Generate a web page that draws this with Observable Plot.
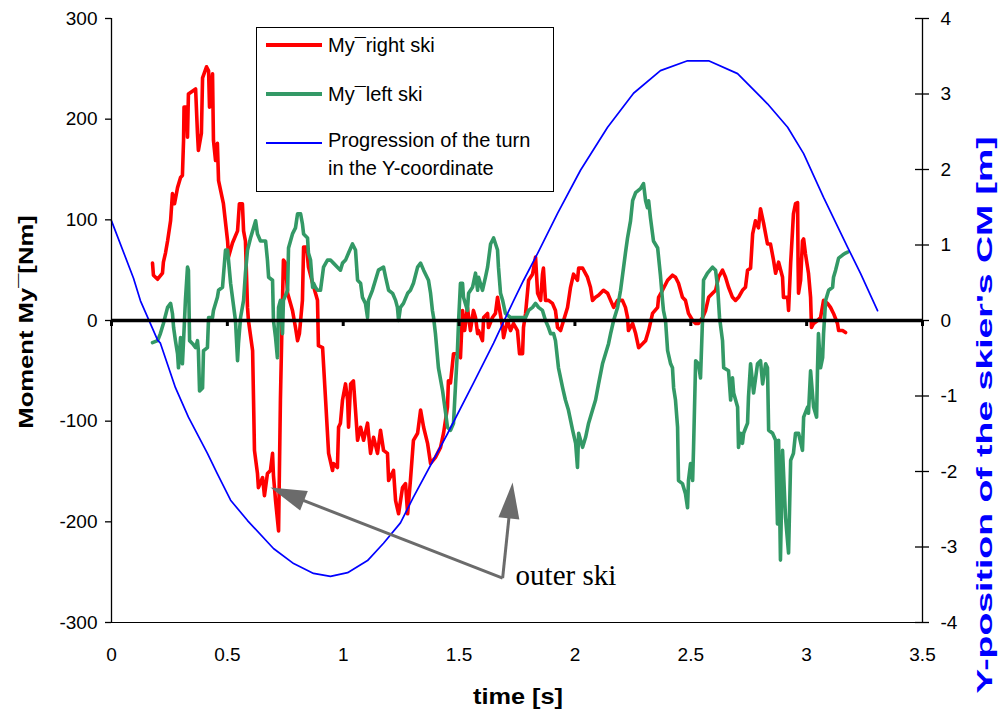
<!DOCTYPE html>
<html><head><meta charset="utf-8">
<script src="https://cdn.jsdelivr.net/npm/d3@7"></script>
<script src="https://cdn.jsdelivr.net/npm/@observablehq/plot@0.6"></script>
<style>
html,body{margin:0;padding:0;background:#fff;}
#chart{position:relative;width:998px;height:715px;font-family:"Liberation Sans",Arial,sans-serif;color:#000;overflow:hidden;}
#chart svg{position:absolute;left:0;top:0;}
.title{position:absolute;font-weight:bold;white-space:nowrap;line-height:1;}
#ytitle{left:25px;top:322px;font-size:21px;transform:translate(-50%,-50%) rotate(-90deg) scaleX(1.22);}
#y2title{left:985px;top:415px;font-size:22px;color:#0000ff;transform:translate(-50%,-50%) rotate(-90deg) scaleX(1.7);}
#xtitle{left:518px;top:697px;font-size:22px;transform:translate(-50%,-50%) scaleX(1.15);}
#legend{position:absolute;left:256px;top:27px;width:298px;height:165px;border:1px solid #000;box-sizing:border-box;background:#fff;font-size:20px;line-height:1;}
#legend .sw{position:absolute;left:9px;width:56px;}
#legend .tx{position:absolute;left:71px;white-space:nowrap;transform:translateY(-50%);}
</style></head>
<body><div id="chart"></div>
<script>
// ---- data ----
const xTicks = [0, 0.5, 1, 1.5, 2, 2.5, 3, 3.5];
const leftTicks = [-300, -200, -100, 0, 100, 200, 300];
const rightTicks = [-4, -3, -2, -1, 0, 1, 2, 3, 4];

// My right ski (time s, moment Nm)
const rightSkiTime = [0.177,0.181,0.199,0.220,0.224,0.233,0.242,0.255,0.263,0.272,0.285,0.298,0.306,0.311,0.313,0.324,0.328,0.332,0.363,0.371,0.375,0.388,0.393,0.410,0.419,0.423,0.436,0.440,0.449,0.457,0.462,0.483,0.501,0.505,0.522,0.544,0.552,0.565,0.570,0.578,0.587,0.591,0.609,0.613,0.617,0.630,0.634,0.652,0.660,0.673,0.686,0.695,0.699,0.708,0.721,0.729,0.738,0.742,0.751,0.760,0.781,0.794,0.803,0.811,0.824,0.829,0.842,0.850,0.868,0.889,0.893,0.911,0.915,0.924,0.937,0.954,0.958,0.975,0.980,0.988,0.997,1.010,1.019,1.023,1.032,1.044,1.053,1.062,1.075,1.088,1.105,1.118,1.131,1.148,1.161,1.174,1.191,1.196,1.217,1.226,1.239,1.256,1.269,1.278,1.290,1.303,1.321,1.334,1.347,1.364,1.377,1.398,1.420,1.433,1.450,1.454,1.463,1.476,1.493,1.506,1.515,1.524,1.536,1.549,1.562,1.571,1.580,1.584,1.601,1.606,1.623,1.627,1.644,1.657,1.666,1.670,1.688,1.692,1.709,1.722,1.735,1.752,1.761,1.774,1.778,1.787,1.800,1.817,1.830,1.839,1.852,1.860,1.864,1.873,1.886,1.903,1.916,1.925,1.938,1.951,1.968,1.981,1.994,2.011,2.016,2.033,2.054,2.067,2.076,2.089,2.102,2.123,2.141,2.154,2.167,2.184,2.205,2.218,2.227,2.231,2.249,2.262,2.275,2.292,2.305,2.318,2.335,2.357,2.361,2.378,2.400,2.421,2.434,2.447,2.464,2.477,2.490,2.508,2.521,2.533,2.551,2.564,2.577,2.594,2.607,2.620,2.637,2.650,2.663,2.680,2.693,2.706,2.723,2.736,2.745,2.758,2.767,2.779,2.792,2.801,2.814,2.831,2.844,2.857,2.866,2.879,2.896,2.900,2.918,2.922,2.931,2.939,2.943,2.952,2.961,2.963,2.965,2.974,2.982,2.987,2.995,3.008,3.017,3.021,3.030,3.047,3.060,3.073,3.090,3.103,3.116,3.133,3.138,3.155,3.168];
const rightSkiMoment = [57,45,41,47,58,67,79,99,126,116,132,142,144,179,212,212,182,225,230,186,169,186,241,252,248,212,245,179,159,176,139,116,79,63,77,89,116,116,89,79,13,0,-30,-79,-129,-152,-166,-156,-174,-152,-149,-132,-154,-179,-209,-79,20,60,57,27,10,-7,-20,-13,20,73,73,53,37,20,-25,-27,-43,-79,-132,-149,-142,-146,-106,-102,-79,-63,-79,-106,-63,-60,-89,-119,-106,-119,-102,-132,-116,-132,-109,-129,-132,-159,-149,-179,-192,-166,-162,-192,-159,-119,-112,-89,-106,-122,-142,-136,-126,-112,-86,-60,-62,-33,-33,-37,10,-10,13,-10,10,3,-13,-10,-20,3,7,-7,3,7,23,17,-7,-17,0,-10,-3,-10,-33,-33,-7,7,40,46,63,27,20,46,52,20,20,17,10,-7,-10,0,13,33,46,40,52,52,43,33,20,23,25,30,27,20,13,20,20,13,3,-10,-3,-13,-27,-23,-20,-10,7,13,23,30,40,45,43,37,23,20,7,0,-3,-3,3,10,23,27,30,43,50,43,33,23,20,23,30,33,50,52,86,99,92,111,97,76,76,60,47,58,43,23,23,10,57,89,106,116,117,57,27,40,79,81,66,47,23,-7,-3,0,3,20,17,13,7,-3,-10,-10,-12];

// My left ski (time s, moment Nm)
const leftSkiTime = [0.177,0.199,0.211,0.224,0.242,0.255,0.263,0.268,0.276,0.285,0.289,0.298,0.306,0.311,0.319,0.328,0.332,0.337,0.350,0.363,0.371,0.375,0.380,0.393,0.397,0.414,0.419,0.436,0.440,0.457,0.462,0.479,0.492,0.501,0.514,0.535,0.544,0.548,0.557,0.570,0.578,0.587,0.600,0.622,0.630,0.643,0.665,0.673,0.678,0.695,0.699,0.708,0.716,0.721,0.729,0.738,0.742,0.760,0.764,0.781,0.794,0.803,0.816,0.824,0.829,0.846,0.850,0.859,0.868,0.872,0.880,0.889,0.902,0.915,0.932,0.945,0.958,0.975,0.988,0.997,1.010,1.023,1.040,1.053,1.062,1.075,1.083,1.096,1.105,1.109,1.126,1.139,1.152,1.174,1.183,1.196,1.213,1.226,1.234,1.239,1.247,1.260,1.278,1.290,1.303,1.321,1.334,1.347,1.368,1.377,1.385,1.390,1.398,1.411,1.429,1.442,1.450,1.463,1.476,1.485,1.493,1.498,1.506,1.515,1.519,1.536,1.541,1.558,1.571,1.580,1.584,1.601,1.614,1.623,1.636,1.649,1.666,1.670,1.679,1.688,1.700,1.722,1.744,1.765,1.787,1.800,1.817,1.830,1.843,1.860,1.873,1.886,1.895,1.908,1.916,1.929,1.947,1.959,1.972,1.990,2.003,2.011,2.016,2.033,2.046,2.059,2.076,2.089,2.102,2.119,2.132,2.145,2.154,2.167,2.184,2.197,2.210,2.218,2.227,2.240,2.249,2.262,2.283,2.296,2.305,2.313,2.318,2.326,2.339,2.357,2.369,2.378,2.382,2.391,2.400,2.413,2.421,2.426,2.434,2.443,2.447,2.464,2.469,2.477,2.486,2.490,2.499,2.508,2.512,2.521,2.533,2.542,2.551,2.555,2.572,2.594,2.607,2.616,2.624,2.637,2.642,2.663,2.672,2.680,2.685,2.702,2.706,2.715,2.723,2.728,2.745,2.749,2.758,2.771,2.788,2.801,2.810,2.823,2.831,2.836,2.853,2.866,2.874,2.879,2.887,2.896,2.909,2.922,2.931,2.943,2.952,2.965,2.982,2.987,3.004,3.008,3.017,3.030,3.043,3.047,3.051,3.060,3.069,3.073,3.082,3.095,3.112,3.116,3.125,3.138,3.155,3.168,3.177];
const leftSkiMoment = [-22,-20,-13,-3,13,17,7,-7,-20,-33,-47,-17,-43,-20,20,53,50,-20,-23,-27,-20,-30,-70,-67,-30,-27,3,3,10,23,30,33,70,70,37,0,-40,-23,3,20,47,70,82,99,86,79,79,60,43,40,0,-17,-37,13,20,-13,20,30,72,86,92,106,106,96,86,82,67,60,33,37,33,30,30,53,60,60,57,53,50,57,60,67,76,70,40,37,23,17,3,20,30,40,50,53,43,30,27,20,13,0,13,17,27,30,37,53,57,50,40,27,10,3,-13,-47,-70,-92,-106,-109,-102,-63,-30,0,37,37,23,10,27,33,47,30,43,30,43,53,76,82,70,53,27,20,7,3,3,3,3,10,13,17,13,10,0,-7,-13,-13,-20,-47,-67,-79,-89,-109,-122,-146,-112,-126,-116,-102,-89,-79,-63,-43,-33,-23,-13,0,13,30,53,67,82,99,119,127,131,136,119,112,119,102,79,72,45,20,10,0,-30,-43,-47,-67,-79,-106,-159,-162,-166,-172,-186,-159,-142,-159,-126,-40,-43,-57,3,40,47,53,50,33,3,-20,-47,-50,-79,-57,-72,-86,-126,-112,-122,-112,-102,-76,-43,-72,-43,-40,-63,-43,-47,-109,-112,-119,-202,-119,-238,-129,-196,-231,-139,-132,-112,-112,-129,-96,-86,-92,-50,-86,-96,-47,-13,-47,-37,-13,20,30,33,43,50,62,65,67,68];

// Progression of the turn in the Y-coordinate (time s, Y-position m)
const turnTime = [0,0.095,0.125,0.199,0.211,0.276,0.332,0.414,0.457,0.514,0.587,0.699,0.786,0.872,0.945,1.019,1.105,1.174,1.247,1.303,1.450,1.562,1.649,1.735,1.778,1.839,1.925,2.024,2.141,2.253,2.369,2.486,2.577,2.702,2.831,2.918,2.987,3.073,3.177,3.233,3.306];
const turnY = [1.32,0.56,0.26,-0.26,-0.30,-0.89,-1.28,-1.76,-2.03,-2.38,-2.65,-3.02,-3.22,-3.35,-3.39,-3.34,-3.18,-2.95,-2.68,-2.34,-1.50,-0.83,-0.30,0.26,0.53,0.89,1.42,1.99,2.56,3.01,3.31,3.44,3.44,3.27,2.87,2.56,2.21,1.63,0.97,0.62,0.13];

// "outer ski" annotation: label anchor and arrow tips (time s, moment Nm)
const calloutLabel = {t: 1.744, m: -254, text: "outer ski"};
const calloutFrom = {t: 1.688, m: -256};
const calloutTips = [{t: 0.686, m: -166}, {t: 1.731, m: -161}];

const seriesNames = ["My\u00AFright ski", "My\u00AFleft ski", "Progression of the turn", "in the Y-coordinate"];

// ---- build ----
const RED = "#ff0000", GREEN = "#339966", BLUE = "#0000ff", GREY = "#6b6b6b";
const mPerAxis = 300 / 4; // right axis (m) is mapped onto the left axis (Nm)

const right = rightSkiTime.map((t, i) => ({t, m: rightSkiMoment[i]}));
const left = leftSkiTime.map((t, i) => ({t, m: leftSkiMoment[i]}));
const turn = turnTime.map((t, i) => ({t, y: turnY[i]}));

// arrow heads: apex at the tip, heading measured on screen
const headAngles = [-68.6, 5.9];
const headBack = [0.07, 0.19];
function arrowHead(deg, len = 36, half = 10.5) {
  const a = deg * Math.PI / 180, c = Math.cos(a), s = Math.sin(a);
  const pts = [[0, 0], [-half, len], [half, len]].map(([x, y]) => [x * c - y * s, x * s + y * c]);
  return {draw(ctx) { ctx.moveTo(pts[0][0], pts[0][1]); ctx.lineTo(pts[1][0], pts[1][1]); ctx.lineTo(pts[2][0], pts[2][1]); ctx.closePath(); }};
}
const arrowLinks = calloutTips.map((p, i) => ({
  x1: calloutFrom.t, y1: calloutFrom.m,
  x2: p.t + (calloutFrom.t - p.t) * headBack[i],
  y2: p.m + (calloutFrom.m - p.m) * headBack[i]
}));

const fmt = d => String(d);

const plot = Plot.plot({
  width: 998, height: 715,
  marginLeft: 111, marginRight: 76, marginTop: 18, marginBottom: 93,
  x: {domain: [0, 3.5]},
  y: {domain: [-300, 300]},
  style: {fontFamily: '"Liberation Sans", Arial, sans-serif', fontSize: "19px", color: "#000", background: "transparent", overflow: "visible"},
  marks: [
    Plot.line(right, {x: "t", y: "m", stroke: RED, strokeWidth: 3.6, strokeLinejoin: "round"}),
    Plot.line(left, {x: "t", y: "m", stroke: GREEN, strokeWidth: 3.6, strokeLinejoin: "round"}),
    Plot.line(turn, {x: "t", y: d => d.y * mPerAxis, stroke: BLUE, strokeWidth: 1.7}),
    Plot.ruleY([-300], {stroke: "#000", strokeWidth: 1.2}),
    Plot.ruleX([0, 3.5], {stroke: "#000", strokeWidth: 1.3}),
    Plot.axisY({ticks: leftTicks, tickFormat: fmt, tickSize: 6, tickPadding: 8, label: null, strokeWidth: 1.3}),
    Plot.ruleY(rightTicks.map(d => d * mPerAxis), {x1: 3.5, x2: 3.5, insetLeft: -7, insetRight: -7, stroke: "#000", strokeWidth: 1.3}),
    Plot.axisY({anchor: "right", ticks: rightTicks.map(d => d * mPerAxis), tickFormat: d => String(d / mPerAxis), tickSize: 0, tickPadding: 18, label: null}),
    Plot.axisX({ticks: xTicks, tickFormat: fmt, tickSize: 0, tickPadding: 25, label: null}),
    Plot.ruleX(xTicks, {y1: 0, y2: 0, insetBottom: -6, stroke: "#000", strokeWidth: 3}),
    Plot.ruleY([0], {stroke: "#000", strokeWidth: 3.6}),
    Plot.link(arrowLinks, {x1: "x1", y1: "y1", x2: "x2", y2: "y2", stroke: GREY, strokeWidth: 3}),
    ...calloutTips.map((p, i) => Plot.dot([p], {x: "t", y: "m", r: 10, symbol: arrowHead(headAngles[i]), fill: GREY, stroke: "none"})),
    Plot.text([calloutLabel], {x: "t", y: "m", text: "text", textAnchor: "start", fontFamily: '"Liberation Serif", "Times New Roman", serif', fontSize: 29, fill: "#000"})
  ]
});

const chart = document.getElementById("chart");
chart.appendChild(plot);

function addTitle(id, text) {
  const d = document.createElement("div");
  d.className = "title"; d.id = id; d.textContent = text;
  chart.appendChild(d);
}
addTitle("ytitle", "Moment My\u00AF[Nm]");
addTitle("y2title", "Y-position of the skier's CM [m]");
addTitle("xtitle", "time [s]");

const legend = document.createElement("div");
legend.id = "legend";
const rows = [
  {text: seriesNames[0], y: 17, color: RED, w: 4},
  {text: seriesNames[1], y: 66, color: GREEN, w: 4},
  {text: seriesNames[2], y: 112, color: BLUE, w: 2, lineY: 115},
  {text: seriesNames[3], y: 140}
];
for (const r of rows) {
  if (r.color) {
    const sw = document.createElement("div");
    sw.className = "sw";
    sw.style.top = ((r.lineY ?? r.y) - r.w / 2) + "px";
    sw.style.height = r.w + "px";
    sw.style.background = r.color;
    legend.appendChild(sw);
  }
  const tx = document.createElement("div");
  tx.className = "tx"; tx.style.top = r.y + "px"; tx.textContent = r.text;
  legend.appendChild(tx);
}
chart.appendChild(legend);
</script>
</body></html>
